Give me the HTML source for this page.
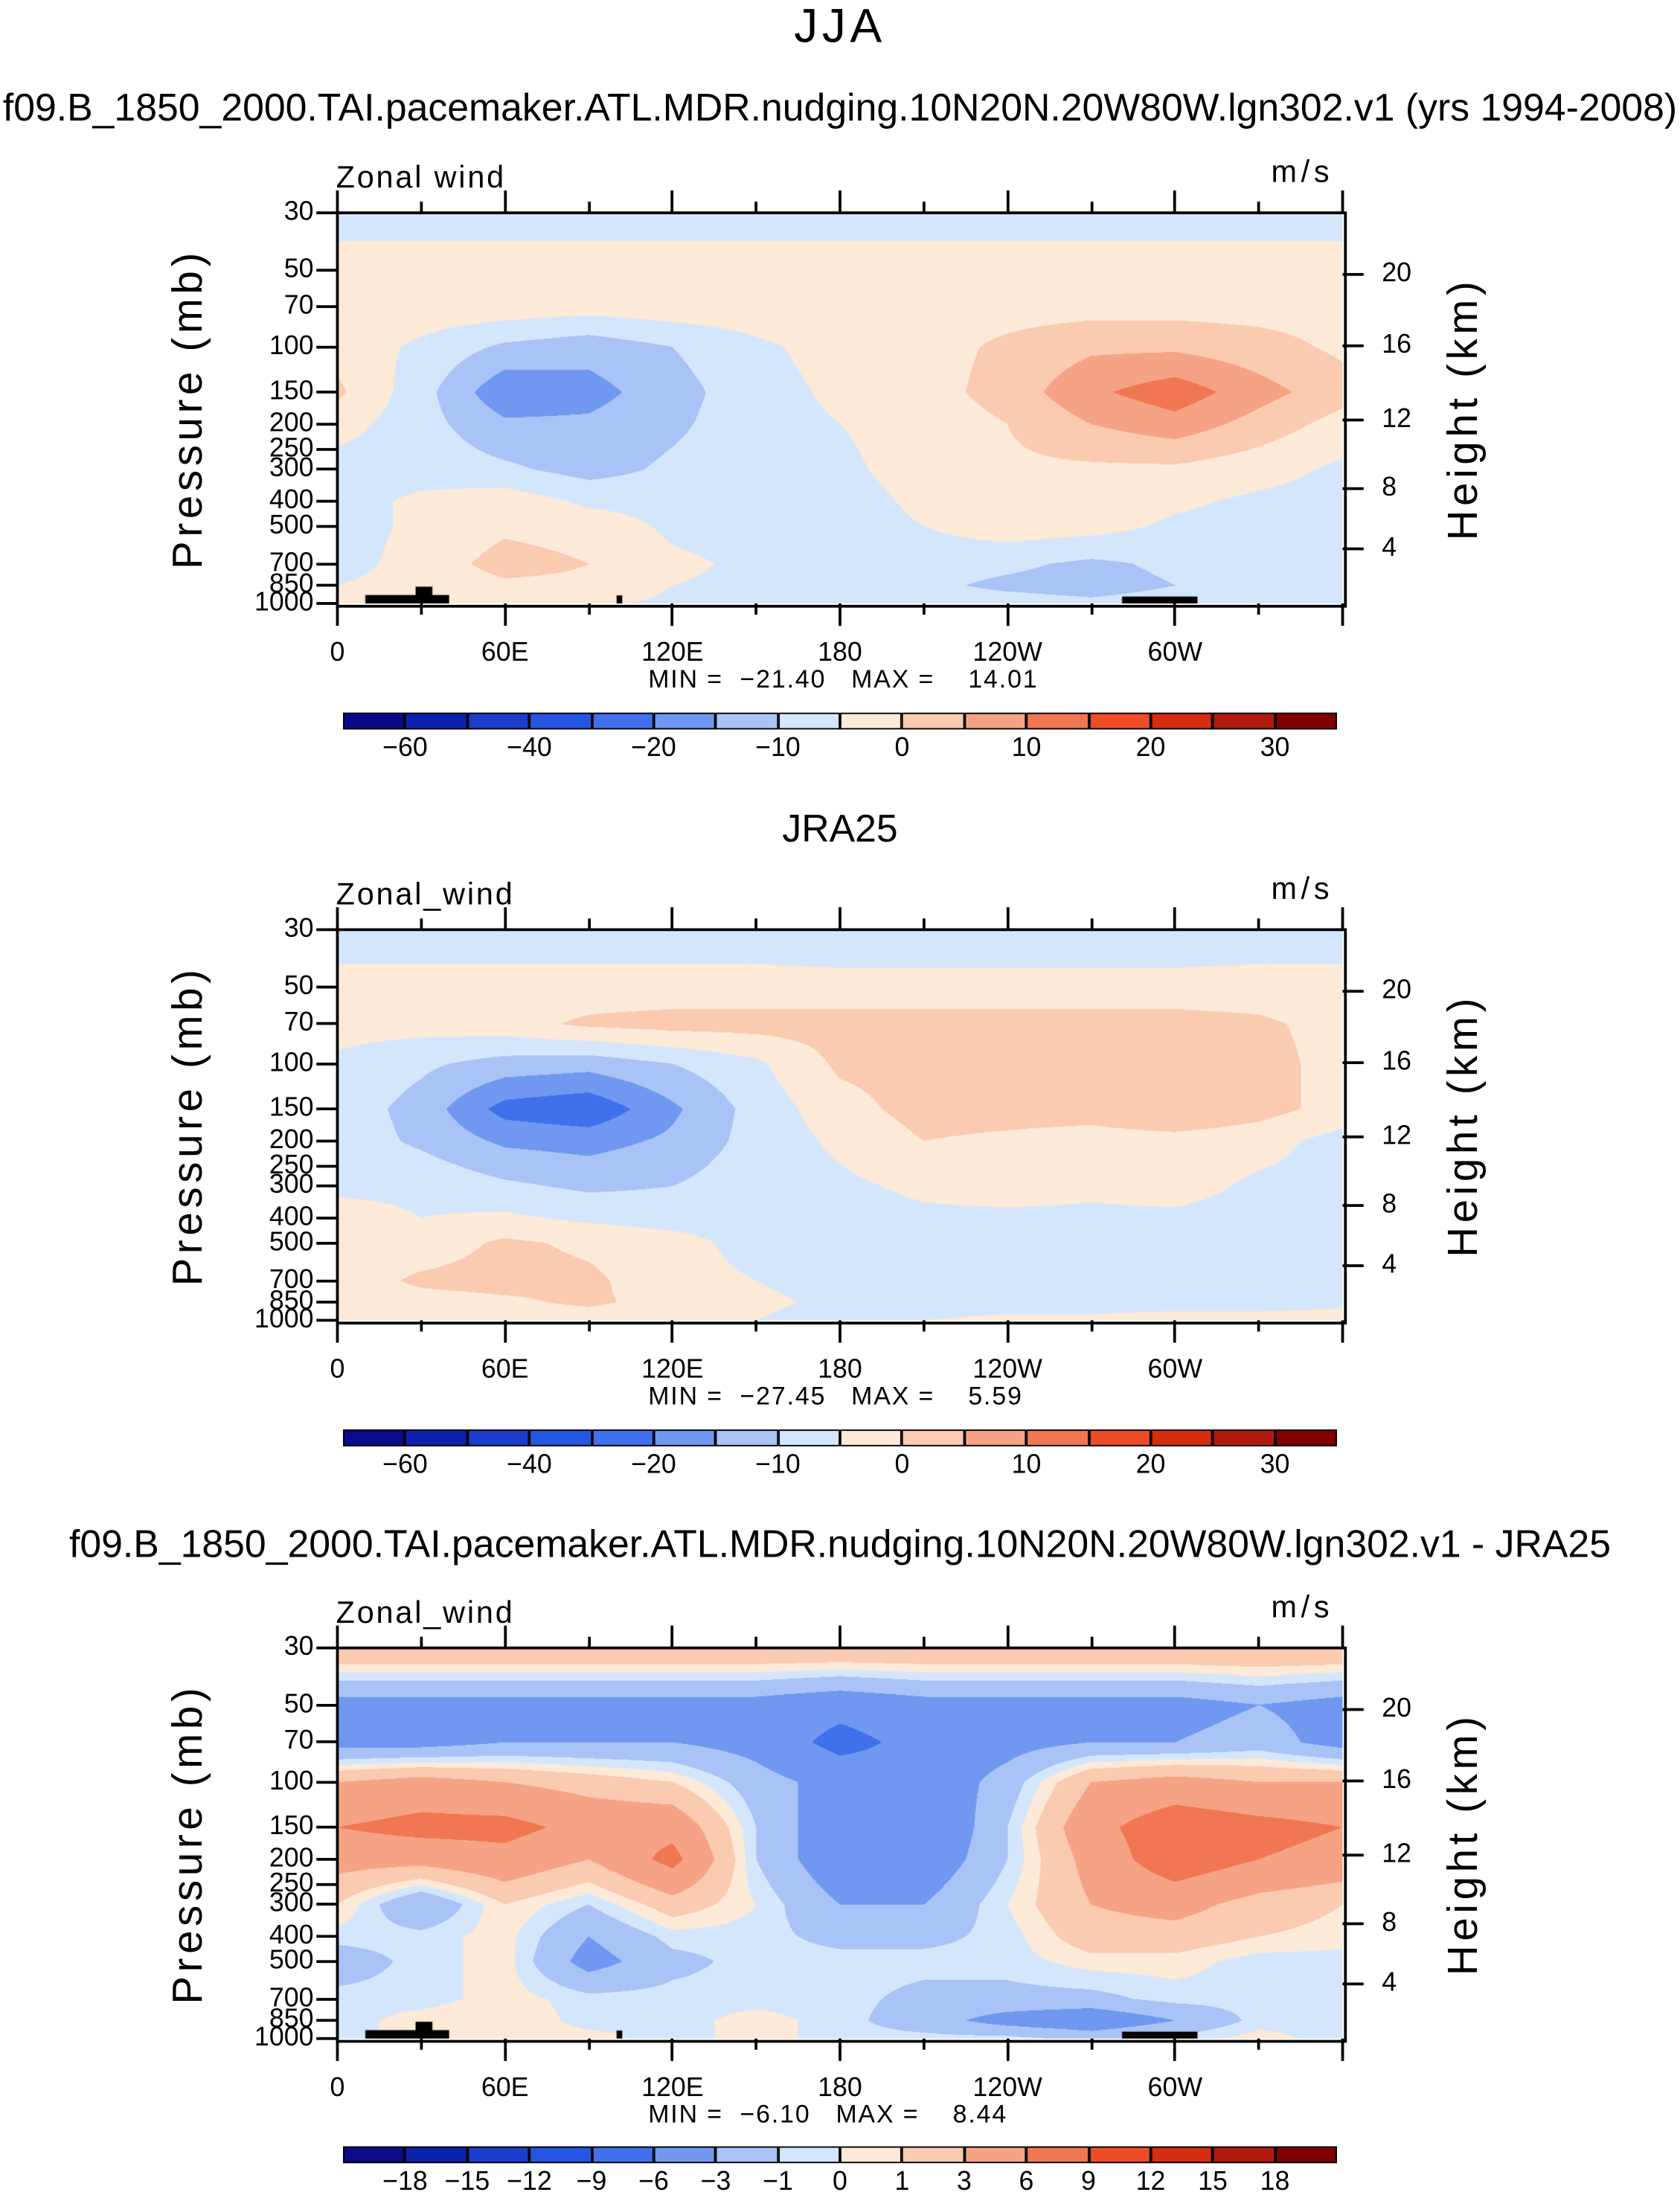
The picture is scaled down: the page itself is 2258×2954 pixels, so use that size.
<!DOCTYPE html>
<html><head><meta charset="utf-8">
<style>
html,body{margin:0;padding:0;background:#fff;}
body{width:2258px;height:2951px;overflow:hidden;position:relative;}
#root{position:absolute;left:0;top:0;width:1200px;height:1568.3px;transform:scale(1.88167);transform-origin:0 0;font-family:"Liberation Sans",sans-serif;color:#000;}
.t{position:absolute;white-space:nowrap;}
canvas{position:absolute;}
.ln{position:absolute;background:#000;}
</style></head>
<body>
<div id="root">
<div class="t" style="left:0;width:1200px;text-align:center;top:0;font-size:34px;font-weight:300;letter-spacing:3px;">JJA</div>
<div class="t" style="left:0;width:1200px;text-align:center;top:61px;font-size:27.5px;">f09.B_1850_2000.TAI.pacemaker.ATL.MDR.nudging.10N20N.20W80W.lgn302.v1 (yrs 1994-2008)</div>
<div class="t" style="left:0;width:1200px;text-align:center;top:576px;font-size:27.5px;">JRA25</div>
<div class="t" style="left:0;width:1200px;text-align:center;top:1087px;font-size:27.5px;">f09.B_1850_2000.TAI.pacemaker.ATL.MDR.nudging.10N20N.20W80W.lgn302.v1 - JRA25</div>
</div>
<script>
// ---- data ----
const lons = [0,30,60,90,120,150,180,210,240,270,300,330,360];
const plevs = [30,50,70,100,150,200,300,400,500,700,850,1000];
const levelsAbs = [-60,-50,-40,-30,-20,-15,-10,-5,0,5,10,15,20,25,30];
const levelsDiff = [-18,-15,-12,-9,-6,-3,-1,0,1,3,6,9,12,15,18];
const tickLabelsAbs = ["−60","−40","−20","−10","0","10","20","30"];
const tickIdxAbs = [0,2,4,6,8,10,12,14];
const tickLabelsDiff = ["−18","−15","−12","−9","−6","−3","−1","0","1","3","6","9","12","15","18"];
const colors = ["#0a0a8a","#0c22ad","#1a3dcc","#2456e2","#4070ec","#7098f0","#a9c3f7","#d4e6fb","#fde9d7","#facab1","#f6a385","#f17752","#ee4c26","#d52d10","#b01a0c","#820000"];
const model = [
[-7,-7,-7,-7,-7,-7,-7,-7,-7,-7,-7,-7,-7],
[-3,-3,-3,-3,-3,-3,-3,-3,-3,-3,-3,-3,-3],
[-2,-2,-2,-3,-2,-2,-2,-2,-2,-2,-2,-2,-2],
[-2,-6,-11,-13,-10,-6,-3,-2,1,4,4,2,-1],
[1,-8,-19,-17,-12,-7,-4,-2,2,9,13,7,2],
[-3,-8,-14,-14,-11,-7,-5,-3,0,5,8,3,-2],
[-7,-7,-9,-12,-9,-7,-6,-3,-1,-1,-1,-3,-6],
[-7,-4,-2,-6,-7,-7,-7,-4,-1,-1,-4,-6,-7],
[-7,-4,-1,-2,-6,-7,-7,-5,-2,-3,-6,-7,-7],
[-7,-3,2,0,-4,-6,-7,-8,-9,-11,-9,-7,-7],
[-5,-3,-1,-1,-5,-6,-7,-9,-11,-12,-10,-7,-6],
[-3,-2,-3,-4,-6,-7,-7,-8,-8,-9,-8,-7,-5]];
const jra = [
[-8,-8,-8,-8,-8,-8,-9,-9,-9,-9,-9,-8,-8],
[-3,-3,-3,-3,-3,-3,-3,-3,-3,-3,-3,-3,-3],
[-3,-3,-2,1,2,2,2,2,2,2,2,1,-2],
[-6,-9,-12,-13,-10,-6,1,2,2,2,2,2,-2],
[-7,-12,-22,-24,-16,-8,-2,2,2,2,5,2,-2],
[-7,-11,-16,-17,-14,-8,-4,0,-1,-2,-2,-3,-7],
[-6,-6,-9,-11,-10,-7,-6,-4,-3,-4,-3,-6,-7],
[-3,-5,-4,-6,-7,-7,-7,-6,-6,-6,-6,-7,-7],
[-3,-3,1,-1,-3,-7,-7,-7,-7,-6,-7,-7,-7],
[-3,1,2,1,-3,-5,-7,-7,-7,-7,-8,-7,-7],
[-3,-2,-1,1,-2,-4,-6,-7,-7,-7,-7,-7,-6],
[-3,-3,-3,-3,-4,-5,-7,-5,-4,-4,-3,-3,-3]];
const diff = [
[3,3,3,3,3,3,3,3,3,3,3,3,3],
[-4,-4,-4,-4,-4,-4,-5,-4,-4,-4,-4,-3,-4],
[-4,-4,-3,-3,-3,-4,-7,-5,-4,-3,-3,-2,-4],
[3,4,3,2,1,-2,-4,-5,-2,3,4,3,3],
[6,7,7,5,5,-1,-5,-6,-1,5,8,7,6],
[4,4,5,3,7,-1,-5,-5,-1,4,8,6,5],
[1,-3,1,-1,2,0,-3,-3,0,3,4,2,1],
[-0.5,-0.5,0.5,-3,-0.5,-0.5,-1.5,-1.5,-0.5,2,2,1,0.5],
[-2,-0.5,0.5,-4,-1.5,-0.5,-0.5,-0.5,-0.5,0.5,0.5,-0.5,-0.5],
[-0.5,-0.5,0.5,-0.5,-0.5,-0.5,-0.5,-1.5,-1.5,-1.5,-0.5,-0.5,-0.5],
[-0.5,0.5,1,-0.5,-0.5,0.5,-0.5,-2,-4,-5,-3,-0.5,-0.5],
[-0.5,0.5,0.5,0.5,-0.5,0.5,-0.5,-0.5,-0.5,-1.5,-0.5,0.5,-0.5]];
const minmax = [["−21.40","14.01"],["−27.45","5.59"],["−6.10","8.44"]];
const xLabels = ["0","60E","120E","180","120W","60W"];
const xLabelLons = [0,60,120,180,240,300];
const pLabels = [30,50,70,100,150,200,250,300,400,500,700,850,1000];
const hLabels = [20,16,12,8,4];
const hPress = [52,99.5,193,358,612];
// topography: [lon start, lon end, top pressure]
const topoBars = [[10,40,927],[28,34,860],[100,102,930],[281,308,940]];
// ---- layout ----
const S = 1.88167;
const X0=241, W=718, H=279;
const root = document.getElementById('root');
const xs = lon => X0 + lon/360*W;
const ys = (p,top) => top + H*Math.log(p/30)/Math.log(1000/30);
function div(cls, name, css, txt){
  const d=document.createElement('div'); d.className=cls;
  
  
  d.style.cssText=css; if(txt!==undefined) d.textContent=txt; root.appendChild(d); return d;
}
function hex(c){return [parseInt(c.slice(1,3),16),parseInt(c.slice(3,5),16),parseInt(c.slice(5,7),16)];}
const rgb = colors.map(hex);
function interp(grid, lon, p){
  const lp=Math.log(p);
  let r=0; while(r<plevs.length-2 && Math.log(plevs[r+1])<lp) r++;
  const fy=(lp-Math.log(plevs[r]))/(Math.log(plevs[r+1])-Math.log(plevs[r]));
  let c=Math.min(11,Math.floor(lon/30)); const fx=(lon-lons[c])/30;
  const a=grid[r][c]*(1-fx)+grid[r][c+1]*fx, b=grid[r+1][c]*(1-fx)+grid[r+1][c+1]*fx;
  return a*(1-fy)+b*fy;
}
function panel(idx, grid, levels, top, cbTop, diffMode){
  const cw=Math.round(W*S), ch=Math.round(H*S);
  const cv=document.createElement('canvas'); cv.width=cw; cv.height=ch;
  
  
  cv.style.cssText=`left:${X0}px;top:${top}px;width:${W}px;height:${H}px;`;
  root.appendChild(cv);
  const ctx=cv.getContext('2d'); const img=ctx.createImageData(cw,ch);
  for(let j=0;j<ch;j++){
    const p=30*Math.exp((j+0.5)/ch*Math.log(1000/30));
    for(let i=0;i<cw;i++){
      const v=interp(grid,(i+0.5)/cw*360,p);
      let k=0; while(k<levels.length && v>=levels[k]) k++;
      const c=rgb[k], o=(j*cw+i)*4;
      img.data[o]=c[0];img.data[o+1]=c[1];img.data[o+2]=c[2];img.data[o+3]=255;
    }
  }
  ctx.putImageData(img,0,0);
  ctx.fillStyle='#000';
  if(idx!==1){
    topoBars.forEach(t=>{const y=(ys(t[2],top)-top)*S; ctx.fillRect(t[0]/360*cw, y, (t[1]-t[0])/360*cw, ch-y);});
  }
  div('ln','plot-frame-'+(idx+1),`left:${X0-1}px;top:${top-1}px;width:${W}px;height:${H}px;background:none;border:2px solid #000;`);
  for(let lon=0;lon<=360;lon+=30){
    const major=lon%60===0, L=major?16:8, x=xs(lon)-1;
    div('ln','top-tick',`left:${x}px;top:${top-L}px;width:2px;height:${L}px;`);
    div('ln','bottom-tick',`left:${x}px;top:${top+H}px;width:2px;height:${L}px;`);
  }
  xLabels.forEach((t,i)=>div('t','x-tick-label',`left:${xs(xLabelLons[i])-40}px;width:80px;text-align:center;top:${top+H+25}px;font-size:19px;`,t));
  pLabels.forEach(p=>{
    const y=ys(p,top);
    div('ln','y-tick',`left:${X0-15}px;top:${y-1}px;width:15px;height:2px;`);
    div('t','y-tick-label',`left:${X0-90}px;width:73px;text-align:right;top:${y-11}px;font-size:19px;line-height:22px;`,String(p));
  });
  hLabels.forEach((h,i)=>{
    const y=ys(hPress[i],top);
    div('ln','height-tick',`left:${X0+W}px;top:${y-1}px;width:15px;height:2px;`);
    div('t','height-tick-label',`left:${X0+W+28}px;top:${y-11}px;font-size:19px;line-height:22px;`,String(h));
  });
  div('t','field-label',`left:240px;top:${top-38}px;font-size:22px;letter-spacing:1.5px;`, idx===0?'Zonal wind':'Zonal_wind');
  div('t','units-label',`left:908px;top:${top-42}px;font-size:22px;letter-spacing:3px;`,'m/s');
  div('t','y-axis-title',`left:${135-130}px;top:${top+H/2-17}px;width:260px;text-align:center;font-size:30px;letter-spacing:3px;transform:rotate(-90deg);`,'Pressure (mb)');
  div('t','height-axis-title',`left:${1046-130}px;top:${top+H/2-17}px;width:260px;text-align:center;font-size:30px;letter-spacing:3px;transform:rotate(-90deg);`,'Height (km)');
  div('t','min-max-label',`left:463px;top:${top+H+44}px;font-size:18px;letter-spacing:1px;white-space:pre;`,'MIN =  '+minmax[idx][0]+'   MAX =    '+minmax[idx][1]);
  const bw=710/16;
  colors.forEach((c,k)=>{
    div('ln','colorbar-box',`left:${245+k*bw}px;top:${cbTop}px;width:${bw}px;height:12px;background:${c};box-sizing:border-box;border:1px solid #000;`);
  });
  if(diffMode){
    tickLabelsDiff.forEach((t,i)=>div('t','colorbar-label',`left:${245+(i+1)*bw-25}px;width:50px;text-align:center;top:${cbTop+15}px;font-size:19px;`,t));
  } else {
    tickLabelsAbs.forEach((t,i)=>div('t','colorbar-label',`left:${245+(tickIdxAbs[i]+1)*bw-25}px;width:50px;text-align:center;top:${cbTop+15}px;font-size:19px;`,t));
  }
}
panel(0, model, levelsAbs, 152, 509, false);
panel(1, jra, levelsAbs, 664, 1021, false);
panel(2, diff, levelsDiff, 1177, 1533, true);
</script>
</body></html>
